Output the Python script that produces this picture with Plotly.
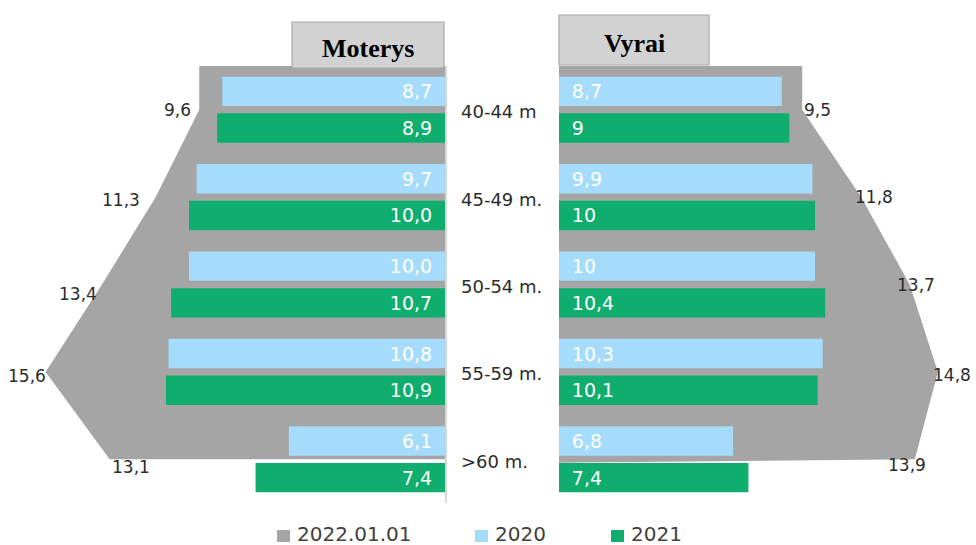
import plotly.graph_objects as go

# ---------------- data ----------------
categories = ["40-44 m", "45-49 m.", "50-54 m.", "55-59 m.", ">60 m."]
women_2022 = [9.6, 11.3, 13.4, 15.6, 13.1]
women_2020 = [8.7, 9.7, 10.0, 10.8, 6.1]
women_2021 = [8.9, 10.0, 10.7, 10.9, 7.4]
men_2022 = [9.5, 11.8, 13.7, 14.8, 13.9]
men_2020 = [8.7, 9.9, 10.0, 10.3, 6.8]
men_2021 = [9.0, 10.0, 10.4, 10.1, 7.4]
series_names = ["2022.01.01", "2020", "2021"]
panel_titles = ["Moterys", "Vyrai"]

# ---------------- style ----------------
W, H = 976, 545
GRAY = "#a5a5a5"
BLUE = "#a6dcfb"
GREEN = "#10ae6e"
TXT = "#2b2b2b"
FONT = "DejaVu Sans"
PXU = 25.6  # pixels per unit

idx = list(range(len(categories)))


def fmt1(v):
    return f"{v:.1f}".replace(".", ",")


def fmtg(v):
    return f"{v:g}".replace(".", ",")


NB = "\u00a0\u2009"

fig = go.Figure()

# gray 2022 area (left, women) on base subplot
fig.add_trace(go.Scatter(
    x=[women_2022[0]] + women_2022 + [0, 0],
    y=[-0.5] + idx + [idx[-1], -0.5],
    fill="toself", fillcolor=GRAY, line=dict(width=0), mode="lines",
    xaxis="x", yaxis="y", showlegend=False, hoverinfo="skip"))
# gray 2022 area (right, men)
fig.add_trace(go.Scatter(
    x=[men_2022[0]] + men_2022 + [0, 0],
    y=[-0.5] + idx + [idx[-1] + 0.04, -0.5],
    fill="toself", fillcolor=GRAY, line=dict(width=0), mode="lines",
    xaxis="x2", yaxis="y2", showlegend=False, hoverinfo="skip"))

bar_common = dict(orientation="h", textposition="inside", insidetextanchor="start",
                  textangle=0, textfont=dict(color="white", size=19, family=FONT),
                  showlegend=False, hoverinfo="skip", marker_line_width=0)

# bars on overlaying subplots so they are drawn above the gray areas
fig.add_trace(go.Bar(x=women_2020, y=idx, marker_color=BLUE,
                     text=[fmt1(v) + NB for v in women_2020],
                     xaxis="x3", yaxis="y3", **bar_common))
fig.add_trace(go.Bar(x=women_2021, y=idx, marker_color=GREEN,
                     text=[fmt1(v) + NB for v in women_2021],
                     xaxis="x3", yaxis="y3", **bar_common))
fig.add_trace(go.Bar(x=men_2020, y=idx, marker_color=BLUE,
                     text=[NB + fmtg(v) for v in men_2020],
                     xaxis="x4", yaxis="y4", **bar_common))
fig.add_trace(go.Bar(x=men_2021, y=idx, marker_color=GREEN,
                     text=[NB + fmtg(v) for v in men_2021],
                     xaxis="x4", yaxis="y4", **bar_common))

ydom = [1 - 503 / H, 1 - 66 / H]
left_end = 445
right_start = 559
xl_range = [left_end / PXU, 0]
xr_range = [0, (W - right_start) / PXU]
yr = [4.5, -0.5]
fig.update_layout(
    width=W, height=H, autosize=False,
    margin=dict(l=0, r=0, t=0, b=0),
    paper_bgcolor="white", plot_bgcolor="rgba(0,0,0,0)",
    barmode="group", bargap=0.16, bargroupgap=0.2,
    xaxis=dict(domain=[0, left_end / W], range=xl_range, visible=False, fixedrange=True),
    xaxis2=dict(domain=[right_start / W, 1], range=xr_range, visible=False, fixedrange=True),
    xaxis3=dict(overlaying="x", range=xl_range, visible=False, fixedrange=True),
    xaxis4=dict(overlaying="x2", range=xr_range, visible=False, fixedrange=True),
    yaxis=dict(domain=ydom, range=yr, anchor="x", side="right",
               showticklabels=False, showgrid=False, zeroline=False, ticks="",
               showline=True, linecolor="#d6d6d6", linewidth=1.5),
    yaxis2=dict(domain=ydom, range=yr, anchor="x2", visible=False),
    yaxis3=dict(overlaying="y", range=yr, anchor="x3", visible=False),
    yaxis4=dict(overlaying="y2", range=yr, anchor="x4", visible=False),
    font=dict(family=FONT, color=TXT),
)

ann = []
# category labels in the middle
for i, c in enumerate(categories):
    ann.append(dict(x=459 / W, xref="paper", y=i, yref="y", text=c, showarrow=False,
                    xanchor="left", yanchor="middle", yshift=-2,
                    font=dict(size=18, color=TXT, family=FONT)))

# 2022 value labels
w_style = [("right", -6, 0), ("right", -14, -3), ("right", -3, -9), ("right", 2, -4), ("left", 0, -8)]
m_style = [("left", 0, 0), ("left", -8, 0), ("left", -15, 0), ("left", -7, -3), ("left", -29, -6)]
for i, v in enumerate(women_2022):
    xa, xs, ys = w_style[i]
    ann.append(dict(x=v, xref="x", y=i, yref="y", text=fmt1(v), showarrow=False,
                    xanchor=xa, yanchor="middle", xshift=xs, yshift=ys,
                    font=dict(size=17, color=TXT, family=FONT)))
for i, v in enumerate(men_2022):
    xa, xs, ys = m_style[i]
    ann.append(dict(x=v, xref="x2", y=i, yref="y2", text=fmt1(v), showarrow=False,
                    xanchor=xa, yanchor="middle", xshift=xs, yshift=ys,
                    font=dict(size=17, color=TXT, family=FONT)))

# panel titles in gray boxes
shapes = []
boxes = [(292, 444, 22, 68), (559, 709, 15, 65)]
for (x0, x1, y0, y1), t in zip(boxes, panel_titles):
    shapes.append(dict(type="rect", xref="paper", yref="paper",
                       x0=x0 / W, x1=x1 / W, y0=1 - y1 / H, y1=1 - y0 / H,
                       fillcolor="#d2d2d2", line=dict(color="#a9a9a9", width=1.2), layer="above"))
    ann.append(dict(x=(x0 + x1) / 2 / W, xref="paper", y=1 - ((y0 + y1) / 2 + 3) / H, yref="paper",
                    text=f"<b>{t}</b>", showarrow=False, xanchor="center", yanchor="middle",
                    font=dict(size=26, color="black", family="Liberation Serif")))

# legend
leg = [(277, GRAY), (475, BLUE), (611, GREEN)]
for (lx, col), name in zip(leg, series_names):
    shapes.append(dict(type="rect", xref="paper", yref="paper",
                       x0=lx / W, x1=(lx + 13) / W, y0=1 - 542 / H, y1=1 - 530 / H,
                       fillcolor=col, line=dict(width=0)))
    ann.append(dict(x=(lx + 18) / W, xref="paper", y=1 - 534 / H, yref="paper", text=name,
                    showarrow=False, xanchor="left", yanchor="middle", height=16,
                    font=dict(size=20, color="#404040", family=FONT)))

fig.update_layout(annotations=ann, shapes=shapes)
fig.write_html("out.html")
